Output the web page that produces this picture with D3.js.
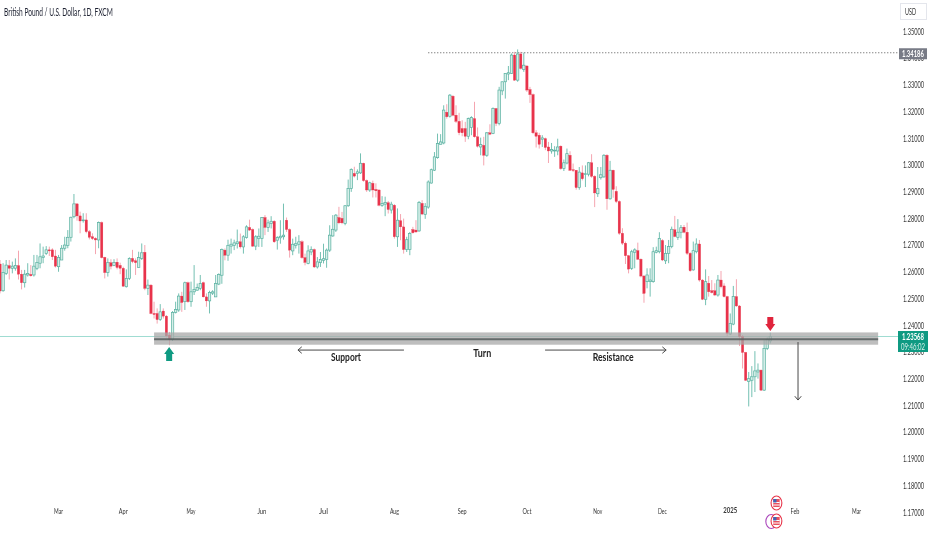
<!DOCTYPE html>
<html>
<head>
<meta charset="utf-8">
<script src="https://cdn.jsdelivr.net/npm/d3@7"></script>
<style>
  html, body { margin: 0; padding: 0; background: #fff; }
  svg { display: block; filter: blur(0.4px); }
  text { font-family: Lato, "Noto Sans", sans-serif; }
</style>
</head>
<body>
<svg id="chart" width="932" height="550"></svg>
<script>
// GBPUSD daily candles
const opens = [
1.2628,1.2528,1.2593,1.2622,1.2612,1.2612,1.2622,1.2590,1.2558,1.2587,
1.2589,1.2587,1.2612,1.2631,1.2653,1.2668,1.2681,1.2681,1.2658,1.2618,
1.2643,1.2687,1.2697,1.2728,1.2805,1.2853,1.2808,1.2791,1.2793,1.2749,
1.2730,1.2724,1.2718,1.2783,1.2653,1.2596,1.2633,1.2622,1.2635,1.2623,
1.2612,1.2543,1.2574,1.2649,1.2640,1.2615,1.2649,1.2672,1.2537,1.2549,
1.2443,1.2443,1.2420,1.2452,1.2433,1.2362,1.2345,1.2447,1.2456,1.2508,
1.2487,1.2558,1.2487,1.2524,1.2530,1.2537,1.2558,1.2505,1.2490,1.2519,
1.2505,1.2553,1.2586,1.2680,1.2661,1.2695,1.2698,1.2704,1.2711,1.2692,
1.2727,1.2765,1.2757,1.2695,1.2723,1.2723,1.2802,1.2765,1.2780,1.2788,
1.2717,1.2726,1.2730,1.2792,1.2757,1.2677,1.2698,1.2702,1.2711,1.2652,
1.2630,1.2673,1.2682,1.2617,1.2633,1.2642,1.2645,1.2680,1.2733,1.2755,
1.2802,1.2799,1.2780,1.2846,1.2911,1.2967,1.2967,1.2969,1.3005,1.2940,
1.2905,1.2930,1.2907,1.2905,1.2847,1.2852,1.2857,1.2830,1.2848,1.2730,
1.2790,1.2767,1.2682,1.2682,1.2757,1.2755,1.2752,1.2855,1.2814,1.2841,
1.2931,1.2979,1.3026,1.3076,1.3081,1.3196,1.3181,1.3256,1.3185,1.3162,
1.3135,1.3135,1.3106,1.3139,1.3172,1.3104,1.3066,1.3072,1.3035,1.3119,
1.3116,1.3210,1.3154,1.3276,1.3310,1.3339,1.3341,1.3410,1.3316,1.3414,
1.3356,1.3369,1.3281,1.3262,1.3119,1.3110,1.3095,1.3097,1.3066,1.3051,
1.3051,1.3051,1.3069,1.2985,1.3006,1.3035,1.2981,1.2979,1.2914,1.2969,
1.2964,1.2964,1.3007,1.2956,1.2891,1.2951,1.2954,1.3035,1.2872,1.2979,
1.2900,1.2862,1.2743,1.2706,1.2659,1.2612,1.2672,1.2678,1.2646,1.2583,
1.2562,1.2562,1.2562,1.2672,1.2674,1.2716,1.2640,1.2668,1.2693,1.2756,
1.2728,1.2747,1.2766,1.2747,1.2668,1.2606,1.2674,1.2703,1.2568,1.2496,
1.2556,1.2528,1.2528,1.2512,1.2568,1.2546,1.2506,1.2366,1.2403,1.2506,
1.2471,1.2356,1.2297,1.2189,1.2193,1.2206,1.2224,1.2231,1.2156,1.2312,
1.2340];
const closes = [
1.2527,1.2596,1.2624,1.2612,1.2620,1.2622,1.2590,1.2558,1.2590,1.2593,
1.2584,1.2620,1.2634,1.2655,1.2658,1.2681,1.2677,1.2655,1.2620,1.2653,
1.2687,1.2699,1.2728,1.2803,1.2853,1.2808,1.2789,1.2793,1.2749,1.2728,
1.2723,1.2718,1.2783,1.2652,1.2596,1.2633,1.2620,1.2634,1.2615,1.2612,
1.2545,1.2574,1.2649,1.2637,1.2633,1.2652,1.2670,1.2537,1.2549,1.2443,
1.2439,1.2420,1.2449,1.2433,1.2359,1.2345,1.2447,1.2458,1.2508,1.2484,
1.2558,1.2487,1.2524,1.2533,1.2540,1.2555,1.2505,1.2490,1.2522,1.2524,
1.2555,1.2589,1.2682,1.2661,1.2698,1.2702,1.2707,1.2711,1.2692,1.2730,
1.2767,1.2755,1.2695,1.2730,1.2732,1.2802,1.2765,1.2782,1.2788,1.2711,
1.2727,1.2732,1.2736,1.2757,1.2680,1.2702,1.2704,1.2711,1.2652,1.2634,
1.2677,1.2682,1.2617,1.2636,1.2645,1.2648,1.2680,1.2736,1.2758,1.2811,
1.2782,1.2782,1.2846,1.2911,1.2982,1.2957,1.2973,1.3005,1.2940,1.2905,
1.2932,1.2905,1.2902,1.2848,1.2854,1.2858,1.2832,1.2852,1.2730,1.2792,
1.2767,1.2682,1.2719,1.2742,1.2745,1.2748,1.2858,1.2815,1.2844,1.2935,
1.2981,1.3029,1.3079,1.3085,1.3204,1.3179,1.3260,1.3185,1.3162,1.3119,
1.3119,1.3106,1.3172,1.3176,1.3104,1.3069,1.3075,1.3035,1.3119,1.3114,
1.3210,1.3154,1.3279,1.3310,1.3341,1.3344,1.3410,1.3316,1.3414,1.3360,
1.3372,1.3279,1.3262,1.3119,1.3106,1.3076,1.3100,1.3064,1.3051,1.3056,
1.3054,1.3066,1.2985,1.3007,1.3041,1.2979,1.2979,1.2914,1.2972,1.2947,
1.2966,1.3007,1.2956,1.2894,1.2910,1.2962,1.3035,1.2872,1.2979,1.2907,
1.2862,1.2743,1.2706,1.2659,1.2609,1.2674,1.2681,1.2646,1.2583,1.2518,
1.2587,1.2568,1.2674,1.2678,1.2724,1.2643,1.2668,1.2693,1.2758,1.2731,
1.2747,1.2764,1.2747,1.2668,1.2603,1.2678,1.2703,1.2568,1.2496,1.2562,
1.2524,1.2521,1.2512,1.2568,1.2543,1.2506,1.2368,1.2406,1.2506,1.2471,
1.2356,1.2297,1.2193,1.2199,1.2206,1.2228,1.2231,1.2156,1.2312,1.2346,
1.2357];
const highs = [
1.2643,1.2631,1.2643,1.2643,1.2637,1.2649,1.2678,1.2606,1.2606,1.2631,
1.2624,1.2662,1.2662,1.2705,1.2693,1.2695,1.2693,1.2687,1.2681,1.2662,
1.2699,1.2730,1.2755,1.2805,1.2890,1.2855,1.2824,1.2818,1.2818,1.2755,
1.2743,1.2728,1.2787,1.2787,1.2655,1.2649,1.2646,1.2646,1.2649,1.2633,
1.2618,1.2608,1.2653,1.2681,1.2649,1.2674,1.2705,1.2699,1.2570,1.2553,
1.2487,1.2462,1.2478,1.2462,1.2437,1.2374,1.2452,1.2487,1.2518,1.2524,
1.2562,1.2562,1.2562,1.2624,1.2555,1.2587,1.2562,1.2518,1.2528,1.2530,
1.2587,1.2593,1.2686,1.2686,1.2719,1.2723,1.2719,1.2757,1.2742,1.2736,
1.2773,1.2794,1.2761,1.2736,1.2761,1.2804,1.2811,1.2794,1.2807,1.2792,
1.2732,1.2792,1.2854,1.2802,1.2761,1.2723,1.2730,1.2736,1.2717,1.2667,
1.2698,1.2694,1.2686,1.2654,1.2673,1.2704,1.2686,1.2773,1.2811,1.2815,
1.2842,1.2823,1.2848,1.2944,1.2986,1.2992,1.2982,1.3042,1.3007,1.2944,
1.2936,1.2940,1.2930,1.2907,1.2882,1.2880,1.2864,1.2861,1.2852,1.2836,
1.2815,1.2798,1.2730,1.2748,1.2767,1.2792,1.2864,1.2867,1.2856,1.2941,
1.2985,1.3047,1.3116,1.3114,1.3222,1.3226,1.3264,1.3260,1.3222,1.3194,
1.3166,1.3160,1.3176,1.3181,1.3235,1.3139,1.3101,1.3104,1.3122,1.3151,
1.3214,1.3212,1.3291,1.3310,1.3341,1.3369,1.3416,1.3422,1.3431,1.3422,
1.3419,1.3372,1.3291,1.3266,1.3129,1.3119,1.3110,1.3101,1.3085,1.3081,
1.3069,1.3097,1.3072,1.3019,1.3060,1.3050,1.3004,1.2979,1.2991,1.2997,
1.2997,1.3010,1.3039,1.2960,1.2991,1.2991,1.3039,1.3039,1.3014,1.2981,
1.2919,1.2866,1.2762,1.2712,1.2662,1.2681,1.2687,1.2708,1.2649,1.2587,
1.2612,1.2612,1.2691,1.2693,1.2747,1.2721,1.2699,1.2718,1.2768,1.2808,
1.2796,1.2774,1.2774,1.2783,1.2672,1.2712,1.2724,1.2718,1.2571,1.2608,
1.2583,1.2568,1.2556,1.2587,1.2602,1.2556,1.2509,1.2443,1.2546,1.2571,
1.2474,1.2362,1.2299,1.2224,1.2246,1.2302,1.2256,1.2233,1.2343,1.2353,
1.2371];
const lows = [
1.2518,1.2524,1.2587,1.2570,1.2593,1.2603,1.2570,1.2533,1.2540,1.2581,
1.2581,1.2581,1.2605,1.2612,1.2631,1.2662,1.2658,1.2643,1.2615,1.2599,
1.2643,1.2678,1.2687,1.2712,1.2799,1.2790,1.2743,1.2783,1.2743,1.2720,
1.2718,1.2665,1.2687,1.2649,1.2574,1.2581,1.2608,1.2620,1.2608,1.2590,
1.2543,1.2540,1.2568,1.2631,1.2587,1.2615,1.2643,1.2530,1.2512,1.2440,
1.2424,1.2405,1.2415,1.2424,1.2353,1.2324,1.2340,1.2443,1.2449,1.2449,
1.2456,1.2483,1.2468,1.2512,1.2528,1.2530,1.2503,1.2468,1.2443,1.2512,
1.2505,1.2549,1.2554,1.2642,1.2640,1.2667,1.2680,1.2686,1.2686,1.2667,
1.2723,1.2752,1.2692,1.2680,1.2692,1.2692,1.2736,1.2748,1.2761,1.2707,
1.2682,1.2704,1.2719,1.2748,1.2652,1.2661,1.2686,1.2667,1.2648,1.2623,
1.2627,1.2661,1.2613,1.2611,1.2617,1.2630,1.2614,1.2673,1.2730,1.2748,
1.2777,1.2777,1.2773,1.2842,1.2898,1.2952,1.2942,1.2965,1.2936,1.2898,
1.2898,1.2877,1.2877,1.2844,1.2842,1.2807,1.2817,1.2817,1.2723,1.2692,
1.2717,1.2667,1.2673,1.2661,1.2742,1.2745,1.2748,1.2811,1.2797,1.2835,
1.2929,1.2976,1.3022,1.3076,1.3076,1.3172,1.3176,1.3181,1.3156,1.3110,
1.3106,1.3085,1.3095,1.3110,1.3101,1.3064,1.3035,1.2997,1.3029,1.3110,
1.3114,1.3144,1.3147,1.3260,1.3247,1.3316,1.3339,1.3314,1.3310,1.3356,
1.3347,1.3272,1.3231,1.3114,1.3064,1.3060,1.3066,1.3054,1.3006,1.3041,
1.3029,1.3035,1.2981,1.2976,1.3001,1.2976,1.2972,1.2906,1.2906,1.2941,
1.2916,1.2956,1.2951,1.2841,1.2879,1.2944,1.2951,1.2831,1.2869,1.2876,
1.2856,1.2737,1.2699,1.2628,1.2593,1.2606,1.2612,1.2643,1.2578,1.2483,
1.2537,1.2506,1.2558,1.2668,1.2668,1.2639,1.2628,1.2631,1.2687,1.2728,
1.2718,1.2724,1.2743,1.2662,1.2599,1.2603,1.2668,1.2562,1.2493,1.2474,
1.2506,1.2518,1.2508,1.2506,1.2537,1.2503,1.2356,1.2362,1.2399,1.2468,
1.2321,1.2237,1.2190,1.2095,1.2130,1.2149,1.2199,1.2153,1.2153,1.2306,
1.2331];

const priceTicks = [1.17,1.18,1.19,1.20,1.21,1.22,1.23,1.24,1.25,1.26,1.27,1.28,1.29,1.30,1.31,1.32,1.33,1.34,1.35];
const monthLabels = ["Mar","Apr","May","Jun","Jul","Aug","Sep","Oct","Nov","Dec","2025","Feb","Mar"];
const monthBars = [19,40,62,85,105,128,150,171,194,215,237,258,278];

const lastPrice = 1.23568, highPrice = 1.34186;
const zoneTop = 1.2372, zoneMid = 1.2346, zoneBottom = 1.2326;

const up = "#58b0a0", upFill = "#d6efe9", upWick = "#74c0b2";
const down = "#e8334b", downWick = "#f5a5b0";
const teal = "#0f9a82";

const svg = d3.select("#chart");
const x = d3.scaleLinear().domain([0, 250]).range([0, 770.3]);
const y = d3.scaleLinear().domain([1.17, 1.35]).range([512, 31]);

// last price line, goes behind everything
svg.append("line")
  .attr("x1", 0).attr("x2", 898)
  .attr("y1", y(lastPrice)).attr("y2", y(lastPrice))
  .attr("stroke", "#9fdcd2").attr("stroke-width", 1);

// candles
const bars = svg.append("g").selectAll("g").data(opens).join("g");
bars.append("line")
  .attr("x1", (d, i) => x(i)).attr("x2", (d, i) => x(i))
  .attr("y1", (d, i) => y(highs[i])).attr("y2", (d, i) => y(lows[i]))
  .attr("stroke", (d, i) => closes[i] >= d ? upWick : downWick)
  .attr("stroke-width", 1);
bars.append("rect")
  .attr("x", (d, i) => x(i) - 1.2).attr("width", 2.4)
  .attr("y", (d, i) => y(Math.max(d, closes[i])))
  .attr("height", (d, i) => Math.max(0.8, Math.abs(y(d) - y(closes[i]))))
  .attr("fill", (d, i) => closes[i] >= d ? upFill : down)
  .attr("stroke", (d, i) => closes[i] >= d ? up : down)
  .attr("stroke-width", (d, i) => closes[i] >= d ? 0.7 : 0.3);

// support / resistance zone, see-through over the candles
svg.append("rect")
  .attr("x", x(50)).attr("width", x(285) - x(50))
  .attr("y", y(zoneTop)).attr("height", y(zoneBottom) - y(zoneTop))
  .attr("fill", "#a8a8a8").attr("opacity", 0.75);
svg.append("line")
  .attr("x1", x(50)).attr("x2", x(285))
  .attr("y1", y(zoneMid)).attr("y2", y(zoneMid))
  .attr("stroke", "#555c5d").attr("stroke-width", 2).attr("opacity", 0.85);

// dotted line at the high
svg.append("line")
  .attr("x1", x(139)).attr("x2", 898)
  .attr("y1", y(highPrice)).attr("y2", y(highPrice))
  .attr("stroke", "#555").attr("stroke-width", 1).attr("stroke-dasharray", "1 2");

// thin arrows
function thinArrow(x1, y1, x2, y2) {
  const a = Math.atan2(y2 - y1, x2 - x1), s = 5;
  const g = svg.append("g").attr("fill", "none").attr("stroke", "#4a4a4a").attr("stroke-width", 1);
  g.append("line").attr("x1", x1).attr("y1", y1).attr("x2", x2).attr("y2", y2);
  g.append("path").attr("d", d3.line()([
    [x2 - s * Math.cos(a - 0.7), y2 - s * Math.sin(a - 0.7)],
    [x2, y2],
    [x2 - s * Math.cos(a + 0.7), y2 - s * Math.sin(a + 0.7)]
  ]));
}
thinArrow(x(131.1), y(1.2306), x(96.7), y(1.2306));
thinArrow(x(176.9), y(1.2306), x(216.2), y(1.2306));
thinArrow(x(259), y(1.2336), x(259), y(1.2119));

// block arrows, dir 1 points up, -1 points down
function blockArrow(cx, tip, dir, color) {
  const p = [[0,0],[5,7],[3,7],[3,14],[-3,14],[-3,7],[-5,7]]
    .map(([a, b]) => [cx + a, tip + dir * b]);
  svg.append("path").attr("d", d3.line()(p) + "Z").attr("fill", color);
}
blockArrow(x(54.9), y(1.2317), 1, teal);
blockArrow(x(250), y(1.2377), -1, "#e0243c");

// condensed text: squeeze sideways to the width it has in the picture
function label(txt, px, py, len, size, weight, anchor, color) {
  const t = svg.append("text").text(txt)
    .attr("text-anchor", anchor || "middle")
    .attr("dominant-baseline", "central")
    .attr("font-size", size).attr("font-weight", weight || 400)
    .attr("fill", color || "#222");
  const k = len / t.node().getComputedTextLength();
  t.attr("transform", `translate(${px},${py}) scale(${k},1)`);
  return t;
}
label("Support", x(112.3), y(1.2280), 30, 10.5, 700);
label("Turn", x(156.5), y(1.2295), 18, 10.5, 700);
label("Resistance", x(199), y(1.2280), 41, 10.5, 700);

// title
label("British Pound / U.S. Dollar, 1D, FXCM", 4, 11.5, 109, 10.5, 400, "start", "#1c2030");

// price axis
priceTicks.forEach(d => label(d.toFixed(5), 913.5, y(d), 21, 9.5, 400, "middle", "#333"));

// time axis
monthBars.forEach((d, i) => {
  const isYear = monthLabels[i] === "2025";
  label(monthLabels[i], x(d), 510.5, isYear ? 14 : 9, 8, isYear ? 700 : 400, "middle", "#333");
});

// currency box
svg.append("rect").attr("x", 900.5).attr("y", 3.5).attr("width", 26).attr("height", 16)
  .attr("fill", "#fff").attr("stroke", "#e4e6ec");
label("USD", 910.5, 12, 11, 9, 400, "middle", "#333");

// price tags
svg.append("rect").attr("x", 899).attr("y", y(highPrice) - 4.5).attr("width", 28).attr("height", 11)
  .attr("fill", "#787b86");
label(highPrice.toFixed(5), 913, y(highPrice) + 1, 22, 9.5, 700, "middle", "#fff");
svg.append("rect").attr("x", 898).attr("y", y(lastPrice) - 5.5).attr("width", 30).attr("height", 21)
  .attr("fill", teal);
label(lastPrice.toFixed(5), 913, y(lastPrice), 22, 9.5, 700, "middle", "#fff");
label("09:46:02", 913, y(lastPrice) + 10, 24, 9.5, 400, "middle", "#d8f0ea");

// economic event badges
function badge(cx, cy, ring) {
  const g = svg.append("g");
  g.append("ellipse").attr("cx", cx).attr("cy", cy).attr("rx", 5.4).attr("ry", 7)
    .attr("fill", "#fff").attr("stroke", ring).attr("stroke-width", 1.1);
  if (ring === "#ab47bc") return;
  g.append("rect").attr("x", cx - 3.2).attr("y", cy - 4).attr("width", 6.4).attr("height", 8).attr("fill", "#e8505f");
  g.append("rect").attr("x", cx - 3.2).attr("y", cy - 1).attr("width", 6.4).attr("height", 1).attr("fill", "#fff");
  g.append("rect").attr("x", cx - 3.2).attr("y", cy + 1.5).attr("width", 6.4).attr("height", 1).attr("fill", "#fff");
  g.append("rect").attr("x", cx - 3.2).attr("y", cy - 4).attr("width", 3.2).attr("height", 3.5).attr("fill", "#3f64b5");
}
badge(x(252), 503, "#e8354a");
badge(x(250.3), 521.5, "#ab47bc");
badge(x(252), 521, "#e8354a");
</script>
</body>
</html>
